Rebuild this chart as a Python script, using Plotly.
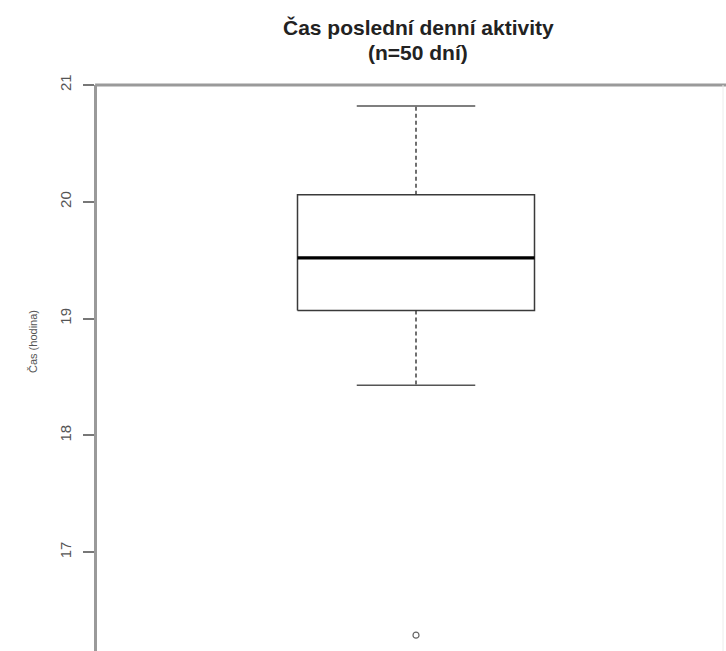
import plotly.graph_objects as go

# ---- data ----
title_lines = ["Čas poslední denní aktivity", "(n=50 dní)"]
y_label = "Čas (hodina)"
y_ticks = [17, 18, 19, 20, 21]
q1 = 19.07
median = 19.52
q3 = 20.06
whisker_low = 18.43
whisker_high = 20.82
outliers = [16.29]

# ---- layout constants ----
W, H = 726, 651
ML, MT = 97, 85
px_per_unit_y = 116.8
y_top = 21.0
y_bot = y_top - (H - MT) / px_per_unit_y
center = 1.0
box_w = 0.8
px_per_unit_x = 296.25
x_left = center - (416 - ML) / px_per_unit_x
x_right = x_left + (W - ML) / px_per_unit_x

fig = go.Figure()

# box rectangle
bx0, bx1 = center - box_w / 2, center + box_w / 2
fig.add_trace(go.Scatter(x=[bx0, bx1, bx1, bx0, bx0], y=[q1, q1, q3, q3, q1],
                         mode="lines", line=dict(color="#3a3a3a", width=1.5),
                         hoverinfo="skip", showlegend=False))
# median
fig.add_trace(go.Scatter(x=[bx0, bx1], y=[median, median], mode="lines",
                         line=dict(color="#000000", width=3.2),
                         hoverinfo="skip", showlegend=False))
# whiskers (dashed)
for a, b in [(q3, whisker_high), (q1, whisker_low)]:
    fig.add_trace(go.Scatter(x=[center, center], y=[a, b], mode="lines",
                             line=dict(color="#333333", width=1.4, dash="4px,3px"),
                             hoverinfo="skip", showlegend=False))
# staples
cx0, cx1 = center - box_w / 4, center + box_w / 4
for v in [whisker_high, whisker_low]:
    fig.add_trace(go.Scatter(x=[cx0, cx1], y=[v, v], mode="lines",
                             line=dict(color="#555555", width=1.6),
                             hoverinfo="skip", showlegend=False))
# outliers
fig.add_trace(go.Scatter(x=[center] * len(outliers), y=outliers, mode="markers",
                         marker=dict(symbol="circle-open", size=6,
                                     color="#666666", line=dict(width=1.2)),
                         hoverinfo="skip", showlegend=False))

# title lines
for txt, ypix in zip(title_lines, [28, 52]):
    fig.add_annotation(text="<b>" + txt + "</b>", xref="paper", yref="paper",
                       x=(418 - ML) / (W - ML), y=(H - ypix) / (H - MT),
                       xanchor="center", yanchor="middle", showarrow=False,
                       font=dict(family="Liberation Sans, Arial", size=21, color="#222222"))
# y label
fig.add_annotation(text=y_label, xref="paper", yref="paper",
                   x=(33 - ML) / (W - ML), y=(H - 342) / (H - MT),
                   xanchor="center", yanchor="middle", textangle=-90, showarrow=False,
                   font=dict(family="Liberation Sans, Arial", size=11, color="#555555"))

# frame: top line and faint right line
fig.add_shape(type="line", xref="paper", yref="paper", x0=-0.003, x1=1.0, y0=1, y1=1,
              line=dict(color="#9a9a9a", width=3))
fig.add_shape(type="line", xref="paper", yref="paper",
              x0=(723 - ML) / (W - ML), x1=(723 - ML) / (W - ML), y0=0, y1=1,
              line=dict(color="#ececec", width=1))

fig.update_layout(
    width=W, height=H,
    margin=dict(l=ML, r=0, t=MT, b=0),
    paper_bgcolor="white", plot_bgcolor="white",
    showlegend=False,
    xaxis=dict(range=[x_left, x_right], visible=False, fixedrange=True),
    yaxis=dict(range=[y_bot, y_top], tickvals=y_ticks, ticktext=[str(t) for t in y_ticks],
               showgrid=False, zeroline=False, showline=True, linecolor="#9a9a9a",
               linewidth=2.5, ticks="outside", ticklen=11, tickwidth=1.5, tickcolor="#777777",
               tickangle=-90, ticklabelstandoff=6,
               tickfont=dict(family="Liberation Sans, Arial", size=15, color="#555555")),
)

fig.write_html("out.html")
